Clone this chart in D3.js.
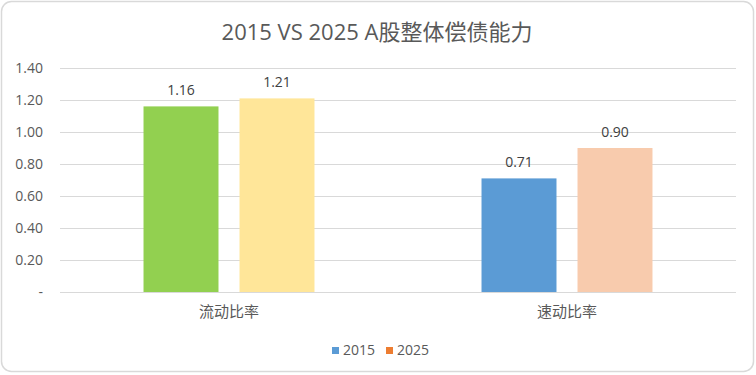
<!DOCTYPE html>
<html>
<head>
<meta charset="utf-8">
<script src="https://cdn.jsdelivr.net/npm/d3@7"></script>
<style>
  html, body { margin: 0; padding: 0; background: #fff; }
  svg { display: block; font-family: "Open Sans", "Noto Sans CJK SC", sans-serif; }
</style>
</head>
<body>
<svg id="chart" width="756" height="375"></svg>
<script>
// DATA
var categories = ["流动比率", "速动比率"];
var seriesNames = ["2015", "2025"];
var values2015 = [1.16, 0.71];
var values2025 = [1.21, 0.90];
var yTicks = [0, 0.2, 0.4, 0.6, 0.8, 1.0, 1.2, 1.4];

// each category has its own pair of bar colours, legend keeps the default ones
var barColors = [["#92D050", "#FFE699"], ["#5B9BD5", "#F8CBAD"]];
var legendColors = ["#5B9BD5", "#ED7D31"];

var W = 756, H = 375;
var MARGIN_LEFT = 60, MARGIN_RIGHT = 20; // plot ends at 736
var PLOT_TOP = 68, PLOT_BOTTOM = 292;
var TEXT = "#595959";
var GRID = "#D9D9D9";

var svg = d3.select("#chart");

// frame
svg.append("rect")
    .attr("x", 1.5).attr("y", 1.5)
    .attr("width", W - 4).attr("height", H - 5)
    .attr("rx", 10).attr("ry", 10)
    .attr("fill", "#fff")
    .attr("stroke", GRID)
    .attr("stroke-width", 1.5);

// title
svg.append("text")
    .attr("x", 377).attr("y", 40)
    .attr("text-anchor", "middle")
    .attr("font-size", 22)
    .attr("fill", TEXT)
    .text("2015 VS 2025 A股整体偿债能力");

var x0 = d3.scaleBand()
    .domain(categories)
    .range([MARGIN_LEFT, W - MARGIN_RIGHT]);

var x1 = d3.scaleBand()
    .domain(seriesNames)
    .range([0, x0.bandwidth()])
    .paddingInner(0.219)
    .paddingOuter(0.87);

var y = d3.scaleLinear()
    .domain([0, 1.4])
    .range([PLOT_BOTTOM, PLOT_TOP]);

// grid lines
svg.append("g").selectAll("line")
    .data(yTicks)
    .enter()
    .append("line")
    .attr("x1", MARGIN_LEFT)
    .attr("x2", W - MARGIN_RIGHT)
    .attr("y1", function(d){ return Math.round(y(d)) + 0.5; })
    .attr("y2", function(d){ return Math.round(y(d)) + 0.5; })
    .attr("stroke", GRID)
    .attr("stroke-width", 1);

// y tick labels
svg.append("g").selectAll("text")
    .data(yTicks)
    .enter()
    .append("text")
    .attr("x", 43)
    .attr("y", function(d){ return y(d); })
    .attr("dy", "0.35em")
    .attr("text-anchor", "end")
    .attr("font-size", 14)
    .attr("fill", TEXT)
    .text(function(d){ return d === 0 ? "-" : d.toFixed(2); });

// bars
var rows = categories.map(function(c, i){
    return { cat: i, values: [values2015[i], values2025[i]] };
});

var groups = svg.append("g").selectAll("g")
    .data(rows)
    .enter()
    .append("g")
    .attr("transform", function(d){ return "translate(" + x0(categories[d.cat]) + ",0)"; });

groups.selectAll("rect")
    .data(function(d){
        return d.values.map(function(v, j){ return { cat: d.cat, s: j, v: v }; });
    })
    .enter()
    .append("rect")
    .attr("x", function(d){ return x1(seriesNames[d.s]); })
    .attr("y", function(d){ return y(d.v); })
    .attr("width", x1.bandwidth())
    .attr("height", function(d){ return y(0) - y(d.v); })
    .attr("fill", function(d){ return barColors[d.cat][d.s]; });

groups.selectAll("text")
    .data(function(d){
        return d.values.map(function(v, j){ return { cat: d.cat, s: j, v: v }; });
    })
    .enter()
    .append("text")
    .attr("x", function(d){ return x1(seriesNames[d.s]) + x1.bandwidth() / 2; })
    .attr("y", function(d){ return y(d.v) - 11; })
    .attr("text-anchor", "middle")
    .attr("font-size", 14)
    .attr("fill", "#404040")
    .text(function(d){ return d.v.toFixed(2); });

// category labels
svg.append("g").selectAll("text")
    .data(categories)
    .enter()
    .append("text")
    .attr("x", function(d){ return x0(d) + x0.bandwidth() / 2; })
    .attr("y", 317)
    .attr("text-anchor", "middle")
    .attr("font-size", 15)
    .attr("fill", TEXT)
    .text(function(d){ return d; });

// legend
var legend = svg.append("g").selectAll("g")
    .data(seriesNames)
    .enter()
    .append("g")
    .attr("transform", function(d, i){ return "translate(" + (332 + i * 54) + ",347)"; });

legend.append("rect")
    .attr("width", 7).attr("height", 7)
    .attr("fill", function(d, i){ return legendColors[i]; });

legend.append("text")
    .attr("x", 11)
    .attr("y", 3.5)
    .attr("dy", "0.35em")
    .attr("font-size", 14)
    .attr("fill", TEXT)
    .text(function(d){ return d; });
</script>
</body>
</html>
